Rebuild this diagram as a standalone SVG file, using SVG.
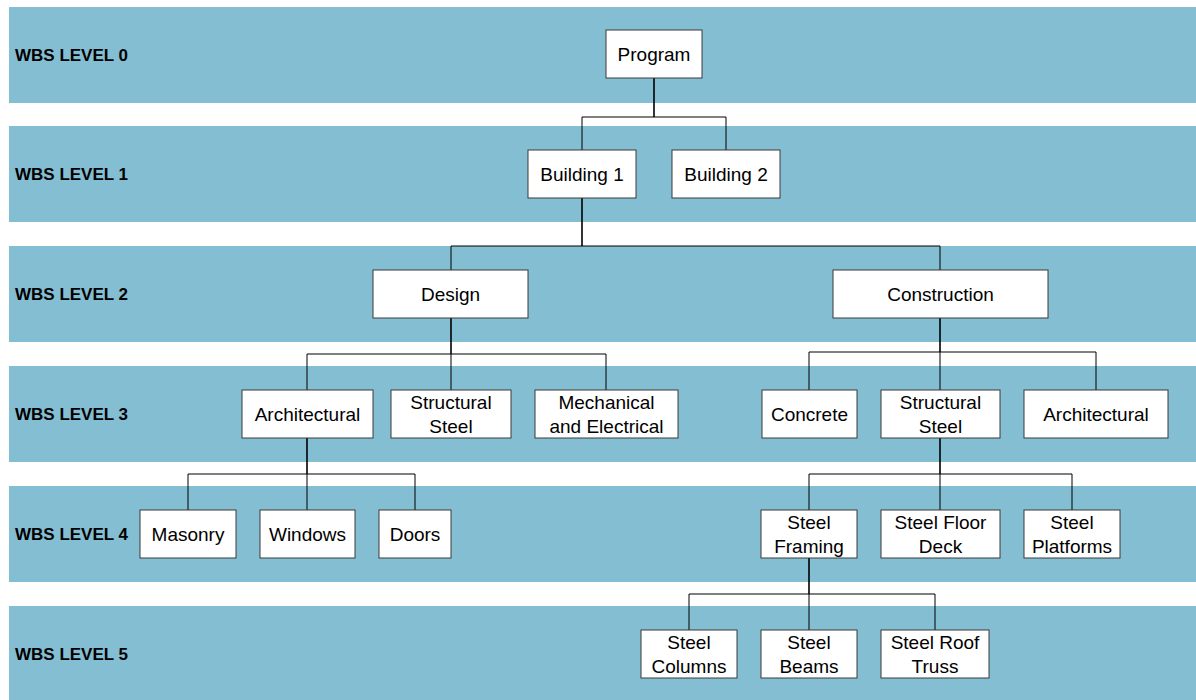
<svg xmlns="http://www.w3.org/2000/svg" width="1196" height="700" viewBox="0 0 1196 700">
<style>
.band{fill:#84BED2}
.lvl{font-family:"Liberation Sans",Arial,sans-serif;font-weight:bold;font-size:17px;fill:#000}
.box{fill:#fff;stroke:#3a3a3a;stroke-width:1}
.t{font-family:"Liberation Sans",Arial,sans-serif;font-size:19px;fill:#000;text-anchor:middle}
.c{fill:none;stroke:#000;stroke-width:1}
.d{fill:none;stroke:#000;stroke-width:1.6}
</style>
<rect width="1196" height="700" fill="#fff"/>
<g id="bands">
<rect class="band" x="9" y="7" width="1187" height="96"/>
<rect class="band" x="9" y="126" width="1187" height="96"/>
<rect class="band" x="9" y="246" width="1187" height="96"/>
<rect class="band" x="9" y="366" width="1187" height="96"/>
<rect class="band" x="9" y="486" width="1187" height="96"/>
<rect class="band" x="9" y="606" width="1187" height="94"/>
<text class="lvl" x="15" y="61">WBS LEVEL 0</text>
<text class="lvl" x="15" y="180">WBS LEVEL 1</text>
<text class="lvl" x="15" y="300">WBS LEVEL 2</text>
<text class="lvl" x="15" y="420">WBS LEVEL 3</text>
<text class="lvl" x="15" y="540">WBS LEVEL 4</text>
<text class="lvl" x="15" y="660">WBS LEVEL 5</text>
</g>
<g id="connectors">
<path class="d" d="M654 78V117"/>
<path class="c" d="M582 150V117H726V150"/>
<path class="d" d="M582 198V246"/>
<path class="c" d="M451 270V246H940V270"/>
<path class="d" d="M451 318V354"/>
<path class="c" d="M307 390V354H606V390M451 354V390"/>
<path class="d" d="M940 318V352"/>
<path class="c" d="M809 390V352H1096V390M940 352V390"/>
<path class="d" d="M307 438V474"/>
<path class="c" d="M188 510V474H415V510M307 474V510"/>
<path class="d" d="M940 438V474"/>
<path class="c" d="M809 510V474H1072V510M940 474V510"/>
<path class="d" d="M809 558V594"/>
<path class="c" d="M689 630V594H935V630M809 594V630"/>
</g>
<g id="n-program"><rect class="box" x="606" y="30" width="96" height="48"/><text class="t" x="654" y="61">Program</text></g>
<g id="n-building1"><rect class="box" x="528" y="150" width="108" height="48"/><text class="t" x="582" y="181">Building 1</text></g>
<g id="n-building2"><rect class="box" x="672" y="150" width="108" height="48"/><text class="t" x="726" y="181">Building 2</text></g>
<g id="n-design"><rect class="box" x="373" y="270" width="155" height="48"/><text class="t" x="450.5" y="301">Design</text></g>
<g id="n-construction"><rect class="box" x="833" y="270" width="215" height="48"/><text class="t" x="940.5" y="301">Construction</text></g>
<g id="n-arch1"><rect class="box" x="242" y="390" width="131" height="48"/><text class="t" x="307.5" y="421">Architectural</text></g>
<g id="n-struct1"><rect class="box" x="391" y="390" width="120" height="48"/><text class="t" x="451" y="409">Structural</text><text class="t" x="451" y="433">Steel</text></g>
<g id="n-mech"><rect class="box" x="535" y="390" width="143" height="48"/><text class="t" x="606.5" y="409">Mechanical</text><text class="t" x="606.5" y="433">and Electrical</text></g>
<g id="n-concrete"><rect class="box" x="762" y="390" width="95" height="48"/><text class="t" x="809.5" y="421">Concrete</text></g>
<g id="n-struct2"><rect class="box" x="881" y="390" width="119" height="48"/><text class="t" x="940.5" y="409">Structural</text><text class="t" x="940.5" y="433">Steel</text></g>
<g id="n-arch2"><rect class="box" x="1024" y="390" width="144" height="48"/><text class="t" x="1096" y="421">Architectural</text></g>
<g id="n-masonry"><rect class="box" x="140" y="510" width="96" height="48"/><text class="t" x="188" y="541">Masonry</text></g>
<g id="n-windows"><rect class="box" x="260" y="510" width="95" height="48"/><text class="t" x="307.5" y="541">Windows</text></g>
<g id="n-doors"><rect class="box" x="379" y="510" width="72" height="48"/><text class="t" x="415" y="541">Doors</text></g>
<g id="n-framing"><rect class="box" x="761" y="510" width="96" height="48"/><text class="t" x="809" y="529">Steel</text><text class="t" x="809" y="553">Framing</text></g>
<g id="n-deck"><rect class="box" x="881" y="510" width="119" height="48"/><text class="t" x="940.5" y="529">Steel Floor</text><text class="t" x="940.5" y="553">Deck</text></g>
<g id="n-platforms"><rect class="box" x="1024" y="510" width="96" height="48"/><text class="t" x="1072" y="529">Steel</text><text class="t" x="1072" y="553">Platforms</text></g>
<g id="n-columns"><rect class="box" x="641" y="630" width="96" height="48"/><text class="t" x="689" y="649">Steel</text><text class="t" x="689" y="673">Columns</text></g>
<g id="n-beams"><rect class="box" x="761" y="630" width="96" height="48"/><text class="t" x="809" y="649">Steel</text><text class="t" x="809" y="673">Beams</text></g>
<g id="n-truss"><rect class="box" x="881" y="630" width="108" height="48"/><text class="t" x="935" y="649">Steel Roof</text><text class="t" x="935" y="673">Truss</text></g>
</svg>
